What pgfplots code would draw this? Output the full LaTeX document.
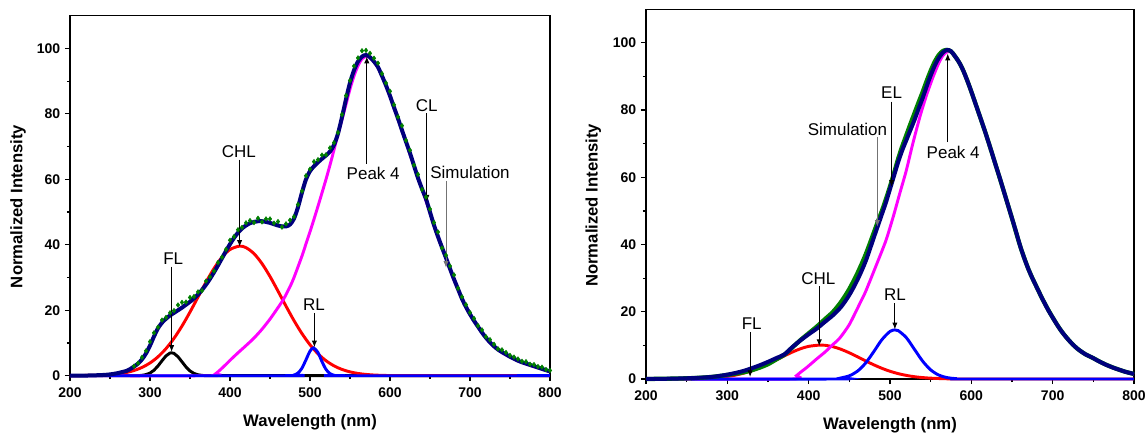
\documentclass[border=0pt]{standalone}
\usepackage{fontspec}
\setmainfont{Liberation Sans}
\usepackage{pgfplots}
\pgfplotsset{compat=1.18}
\usetikzlibrary{arrows.meta}
\definecolor{navy}{RGB}{0,0,125}
\definecolor{dgreen}{RGB}{0,128,0}
\definecolor{mag}{RGB}{255,0,255}
\tikzset{
  ann/.style={font=\fontsize{12.75}{14}\selectfont, anchor=center, inner sep=0pt},
  arr/.style={line width=0.7pt, -{Latex[length=5pt,width=4pt]}},
  comp/.style={line width=2.2pt},
}
\pgfplotsset{
  panel/.style={
    scale only axis, anchor=south west,
    xmin=200, xmax=800, ymin=0, ymax=110,
    xtick={200,300,...,800}, ytick={0,20,...,100},
    minor x tick num=1, minor y tick num=1,
    tick align=outside, xtick pos=bottom, ytick pos=left,
    major tick length=3.8pt, minor tick length=2.3pt,
    axis line style={line width=1.1pt},
    every tick/.style={black, line width=0.9pt},
    /pgf/number format/assume math mode=true,
    tick label style={font=\bfseries\fontsize{10.5}{12}\selectfont},
    xticklabel style={yshift=-1.5pt},
    xlabel={Wavelength (nm)}, ylabel={Normalized Intensity},
    xlabel style={font=\bfseries\fontsize{12.5}{14}\selectfont, at={(axis description cs:0.5,-0.128)}, anchor=center},
    ylabel style={font=\bfseries\fontsize{12.5}{14}\selectfont, at={(axis description cs:-0.108,0.47)}, anchor=center},
    clip=false,
  },
}

% ---------- left panel ----------
\pgfplotstableread{
x y
200 0
285 0
290 0.12
295 0.34
300 0.81
305 1.67
310 2.98
315 4.57
320 6.06
325 6.92
327 7.0
330 6.82
335 5.79
340 4.25
345 2.68
350 1.46
355 0.69
360 0.28
365 0.1
370 0
800 0
}\LFL
\pgfplotstableread{
x y
200 0
240 0.17
250 0.31
260 0.55
270 0.95
280 1.58
290 2.53
300 3.89
310 5.78
320 8.28
330 11.42
340 15.18
350 19.45
360 24.02
370 28.58
380 32.77
390 36.21
400 38.56
412 39.6
420 39.13
430 37.3
440 34.25
450 30.32
460 25.86
470 21.26
480 16.84
490 12.86
500 9.46
510 6.7
520 4.58
530 3.02
540 1.91
550 1.17
560 0.69
570 0.39
580 0.21
590 0.11
600 0.05
620 0
800 0
}\LCHL
\pgfplotstableread{
x y
200 0
475 0
480 0.21
485 0.81
490 2.32
495 4.87
500 7.5
504.5 8.5
510 7.06
515 4.3
520 1.93
525 0.64
530 0.15
535 0
800 0
}\LRL
\pgfplotstableread{
x y
200 0
378 0
382 0.6
386 1.4
390 2.3
396 3.7
400 4.7
410 7.0
420 9.2
430 11.5
440 14.2
450 17.3
460 20.8
467 23.4
475 27.2
480 30.0
490 36.6
495 40.3
502 45.5
510 51.8
520 60.0
527 66.2
533 71.9
540 78.3
545 82.9
550 87.6
555 91.6
560 94.7
565 96.8
571 97.7
575 97.2
580 95.9
585 94.2
590 91.5
595 88.6
600 85.4
610 78.5
620 71.4
630 64.1
640 57
650 49.9
660 42.4
670 35.9
680 29.4
690 23.4
700 18.7
710 14.9
720 11.5
730 8.9
740 7.1
750 5.7
760 4.5
770 3.6
780 2.8
790 2.0
800 1.2
}\LPk
\pgfplotstableread{
x y
280 2.9
285 3.8
290 5.6
295 7.6
300 10.4
305 13.1
310 14.8
315 17.0
320 17.8
325 19.2
330 19.9
335 21.6
340 22.4
345 22.5
350 23.9
355 24.2
360 25.6
365 26.0
370 28.9
375 30.2
380 32.0
385 34.6
390 36.2
395 38.6
400 41.4
405 42.5
410 44.6
415 45.3
420 46.7
425 47.4
430 46.8
435 48.1
440 47.0
445 47.9
450 47.9
455 46.6
460 47.1
465 45.4
470 46.4
475 47.5
480 48.6
485 52.3
490 56.4
495 61.1
500 63.1
505 65.4
510 66.0
515 67.4
520 67.5
525 69.6
530 71.2
535 74.3
540 79.8
545 85.6
550 90.2
555 94.6
560 97.1
565 99.3
570 99.4
575 98.5
580 97.0
585 95.5
590 92.3
595 89.4
600 86.9
605 82.8
610 79.1
615 76.4
620 71.9
625 68.9
630 64.3
635 61.5
640 56.9
645 54.6
650 50.9
655 46.8
660 43.9
665 39.0
670 36.8
675 33.5
680 30.8
685 26.7
690 24.1
695 21.7
700 19.3
705 17.5
710 15.3
715 14.0
720 11.9
725 11.0
730 9.6
735 8.2
740 7.9
745 7.1
750 6.2
755 5.7
760 5.1
765 4.4
770 4.3
775 3.5
780 3.4
785 2.8
790 2.6
795 1.9
800 1.6
}\LCL
\pgfplotstableread{
x y
200 0
220 0.05
240 0.2
250 0.4
260 0.8
265 1.1
270 1.4
275 2.0
280 2.8
285 3.7
290 5.0
295 6.8
300 9.2
305 12.0
310 14.5
315 16.2
320 17.4
325 18.4
330 19.2
335 20.0
340 20.8
345 21.7
350 22.6
355 23.6
360 24.8
365 26.2
370 27.8
375 29.6
380 31.6
385 33.7
390 35.9
395 38.1
400 40.2
405 42.1
410 43.7
415 45.0
420 45.9
425 46.6
430 47.0
435 47.2
440 47.2
445 47.0
450 46.7
455 46.3
460 45.9
465 45.6
470 45.6
475 46.2
480 48.0
485 51.5
490 56.0
495 60.0
500 62.5
505 64.0
510 65.2
515 66.3
520 67.3
525 68.5
530 70.5
535 74.0
540 79.0
545 84.5
550 89.5
555 93.3
560 96.0
565 97.5
570 98.0
575 97.3
580 96.0
585 94.3
590 91.6
595 88.7
600 85.5
605 82.0
610 78.6
615 75.0
620 71.5
625 68.0
630 64.2
635 60.4
640 57.1
645 54.0
650 50.0
655 46.0
660 42.5
665 39.2
670 36.0
675 32.7
680 29.5
685 26.5
690 23.5
695 21.0
700 18.8
705 16.8
710 15.0
715 13.2
720 11.6
725 10.2
730 9.0
735 8.0
740 7.2
745 6.5
750 5.8
755 5.2
760 4.6
765 4.1
770 3.7
775 3.3
780 2.9
785 2.5
790 2.1
795 1.7
800 1.3
}\LSim

% ---------- right panel ----------
\pgfplotstableread{
x y
200 0
800 0
}\RFL
\pgfplotstableread{
x y
200 0
250 0.05
260 0.09
280 0.28
300 0.75
310 1.16
320 1.73
330 2.46
340 3.38
350 4.45
360 5.64
370 6.86
380 8.02
390 9.0
400 9.71
414 10.1
420 10.03
430 9.6
440 8.82
450 7.79
460 6.62
470 5.39
480 4.23
490 3.18
500 2.3
510 1.6
520 1.07
530 0.68
540 0.42
550 0.25
560 0.14
570 0.08
590 0
800 0
}\RCHL
\pgfplotstableread{
x y
200 0
435 0
440 0.33
450 0.96
460 2.32
470 4.74
480 8.12
490 11.69
500 14.15
506 14.6
510 14.4
520 12.32
530 8.85
540 5.35
550 2.72
560 1.16
570 0.42
580 0.13
590 0
800 0
}\RRL
\pgfplotstableread{
x y
200 0
379 0
385 1.0
390 2.0
398 3.5
410 6.0
420 8.0
430 10.3
438 12.1
450 16.2
463 22.5
470 26
484 34.4
495 41.2
504 48.3
512 55.2
520 62
528 70
537 78.2
545 84.5
553 89.9
560 94
565 96.2
570 97.3
575 97.3
580 95.9
585 94.1
590 91.7
595 88.7
600 85.4
610 78.4
620 71.2
630 63.5
640 55.7
650 47.7
660 39.5
670 32.7
680 27.4
690 22.5
700 18.2
710 14.4
720 11.4
730 9.0
740 7.3
750 6.1
760 4.8
770 3.7
780 2.8
790 2.0
800 1.4
}\RPk
\pgfplotstableread{
x y
200 0
240 0.15
260 0.3
280 0.6
300 1.2
320 2.0
330 2.6
340 3.4
350 4.4
360 5.8
370 7.2
380 9.4
390 11.6
400 13.6
410 15.6
420 17.8
430 20.0
440 23.0
450 26.8
460 31.5
470 37.0
480 43.5
485 46.8
490 50.0
495 53.5
500 57.3
505 61.3
510 65.5
515 69.2
520 72.5
525 75.8
530 79.0
535 82.2
540 85.3
545 88.6
550 91.7
555 94.4
560 96.4
565 97.6
570 97.9
575 97.5
580 96.0
585 94.2
590 91.8
595 88.8
600 85.5
610 78.5
620 71.3
630 63.6
640 55.8
650 47.8
660 39.6
670 32.8
680 27.5
690 22.6
700 18.3
710 14.5
720 11.5
730 9.1
740 7.4
750 6.2
760 4.9
770 3.8
780 2.9
790 2.1
800 1.5
}\REL
\pgfplotstableread{
x y
200 0
220 0.05
240 0.15
260 0.3
280 0.6
290 0.9
300 1.3
310 1.8
320 2.4
330 3.2
340 4.1
350 5.1
360 6.2
370 7.3
380 9.5
390 11.5
400 13.3
410 15.0
420 17.0
430 19.0
440 21.5
450 25.0
460 29.5
470 35.0
480 42.0
485 45.5
490 49.0
495 52.5
500 56.5
505 60.5
510 64.5
515 68.0
520 71.0
525 74.0
530 77.0
535 80.3
540 83.5
545 87.0
550 90.3
555 93.2
560 95.5
565 97.1
570 97.9
575 97.5
580 96.0
585 94.2
590 91.8
595 88.8
600 85.5
605 82.0
610 78.5
615 75.0
620 71.3
625 67.5
630 63.6
635 59.8
640 55.8
645 51.8
650 47.8
655 43.8
660 39.6
665 36.0
670 32.8
675 30.0
680 27.5
685 25.0
690 22.6
695 20.3
700 18.3
705 16.3
710 14.5
715 12.9
720 11.5
725 10.2
730 9.1
735 8.2
740 7.4
745 6.8
750 6.2
755 5.5
760 4.9
765 4.3
770 3.8
775 3.3
780 2.9
785 2.5
790 2.1
795 1.8
800 1.5
}\RSim

\begin{document}
\begin{tikzpicture}
\useasboundingbox (0,0) rectangle (860.25pt,-325.5pt);
\begin{axis}[panel, at={(52.5pt,-281.78pt)}, width=360pt, height=270pt]
  \addplot[comp, black] table {\LFL};
  \addplot[comp, red, smooth] table {\LCHL};
  \addplot[comp, mag, smooth, tension=0.4] table {\LPk};
  \addplot[comp, blue, smooth] table {\LRL};
  \addplot[only marks, mark=diamond*, mark size=1.7pt, dgreen, mark options={fill=dgreen}] table {\LCL};
  \addplot[line width=3pt, navy, smooth] table {\LSim};
  \node[ann] at (axis cs:329,35.7) {FL};
  \draw[arr] (axis cs:327,33.3) -- (axis cs:327,7.3);
  \node[ann] at (axis cs:411,68.4) {CHL};
  \draw[arr] (axis cs:412,66) -- (axis cs:412,39.4);
  \node[ann] at (axis cs:505,21.6) {RL};
  \draw[arr] (axis cs:505.5,19.2) -- (axis cs:505.5,8.7);
  \node[ann] at (axis cs:579,61.8) {Peak 4};
  \draw[arr] (axis cs:571,64.8) -- (axis cs:571,97.5);
  \node[ann] at (axis cs:646,82.6) {CL};
  \draw[arr] (axis cs:646,80.2) -- (axis cs:646,53.2);
  \node[ann] at (axis cs:700,62) {Simulation};
  \draw[arr, draw=black!55] (axis cs:670,59.5) -- (axis cs:670,33);
\end{axis}
\begin{axis}[panel, at={(484.5pt,-284.25pt)}, width=366pt, height=277.3pt,
  xlabel style={at={(axis description cs:0.5,-0.126)}}]
  \addplot[comp, black] table {\RFL};
  \addplot[comp, red, smooth] table {\RCHL};
  \addplot[comp, mag, smooth, tension=0.4] table {\RPk};
  \addplot[comp, blue, smooth] table {\RRL};
  \addplot[line width=3.2pt, dgreen, smooth] table {\REL};
  \addplot[line width=3pt, navy, smooth] table {\RSim};
  \node[ann] at (axis cs:330,16.4) {FL};
  \draw[arr] (axis cs:328,14) -- (axis cs:328,0.6);
  \node[ann] at (axis cs:412,30) {CHL};
  \draw[arr] (axis cs:413,27.6) -- (axis cs:413,9.8);
  \node[ann] at (axis cs:506,25) {RL};
  \draw[arr] (axis cs:506,22.6) -- (axis cs:506,14.8);
  \node[ann] at (axis cs:502,85.1) {EL};
  \draw[arr] (axis cs:502,82.5) -- (axis cs:502,57.2);
  \node[ann] at (axis cs:447.7,74.2) {Simulation};
  \draw[arr, draw=black!55] (axis cs:484.4,71.9) -- (axis cs:484.4,45.3);
  \node[ann] at (axis cs:577.7,67.4) {Peak 4};
  \draw[arr] (axis cs:571,70.5) -- (axis cs:571,96.8);
\end{axis}
\end{tikzpicture}
\end{document}
